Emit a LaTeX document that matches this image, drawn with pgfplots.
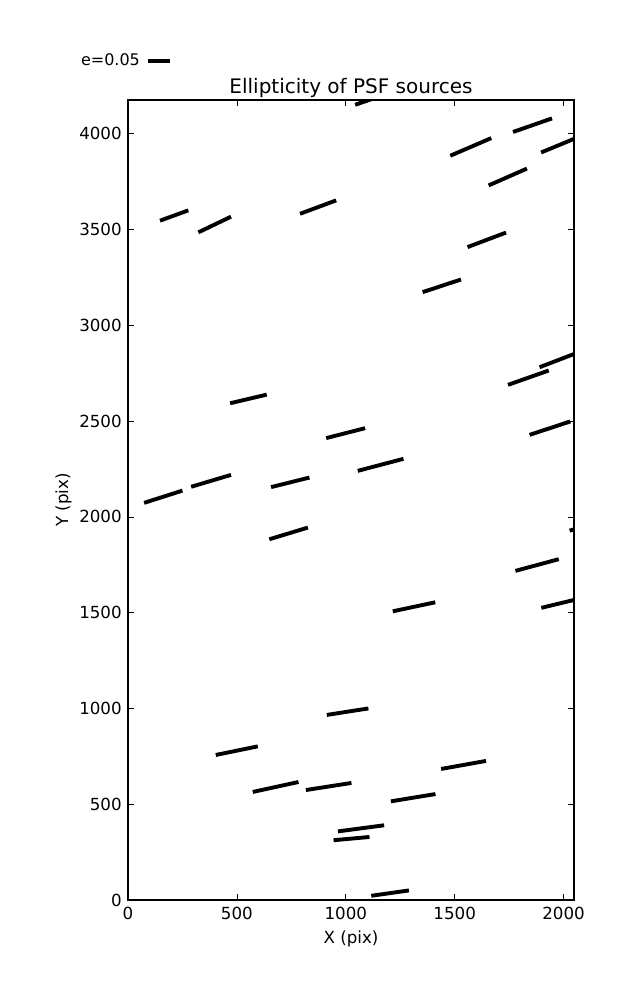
\documentclass[border=0pt]{standalone}
\usepackage{fontspec}
\setmainfont{DejaVu Sans}
\usepackage{pgfplots}
\usepackage{pgfplotstable}
\pgfplotsset{compat=1.18}

\pgfplotstableread{
x y
1043 4151
1230 4224
nan nan
1480 3885
1668 3977
nan nan
1768 4009
1947 4080
nan nan
1897 3902
2080 3988
nan nan
1656 3730
1832 3818
nan nan
147 3546
277 3600
nan nan
323 3485
473 3567
nan nan
790 3582
956 3652
nan nan
1559 3408
1736 3484
nan nan
1353 3173
1529 3239
nan nan
1890 2781
2080 2864
nan nan
1745 2689
1932 2764
nan nan
469 2593
637 2638
nan nan
910 2411
1089 2463
nan nan
1055 2240
1265 2303
nan nan
1844 2428
2031 2498
nan nan
74 2073
250 2137
nan nan
290 2157
473 2219
nan nan
657 2155
833 2205
nan nan
649 1883
826 1944
nan nan
2028 1928
2200 1990
nan nan
1779 1718
1978 1779
nan nan
1898 1525
2080 1575
nan nan
1216 1507
1411 1554
nan nan
913 966
1104 1000
nan nan
403 757
596 802
nan nan
573 564
783 616
nan nan
817 574
1026 611
nan nan
1438 684
1644 726
nan nan
1207 515
1412 553
nan nan
964 358
1176 390
nan nan
944 312
1109 329
nan nan
1117 22
1290 50
}\whiskers

\begin{document}
\begin{tikzpicture}
\path[use as bounding box] (0,0) rectangle (458.64pt,720pt);
\begin{axis}[
  at={(92.16pt,72pt)}, anchor=south west,
  scale only axis,
  width=321.12pt, height=576pt,
  xmin=0, xmax=2048, ymin=0, ymax=4176,
  xtick={0,500,1000,1500,2000},
  ytick={0,500,1000,1500,2000,2500,3000,3500,4000},
  minor tick num=0,
  scaled ticks=false,
  /pgf/number format/assume math mode=true,
  /pgf/number format/set thousands separator={},
  tick label style={font=\fontsize{12}{14}\selectfont},
  xticklabel style={anchor=base, yshift=-14.4pt},
  yticklabel style={xshift=-1pt},
  label style={font=\fontsize{12}{14}\selectfont},
  every axis title shift=0pt,
  title style={font=\fontsize{14.4}{17}\selectfont, at={(axis description cs:0.5,1)}, anchor=base, yshift=4.8pt},
  title={Ellipticity of PSF sources},
  xlabel={X (pix)},
  xlabel style={at={(axis description cs:0.5,0)}, anchor=base, yshift=-31.2pt},
  ylabel={Y (pix)},
  ylabel shift=-1.4pt,
  tick align=inside,
  major tick length=4pt,
  every tick/.style={black, line width=0.5pt},
  axis line style={line width=1pt},
  unbounded coords=jump,
  legend plot pos=right,
  legend style={at={(-0.112,1.049)}, anchor=west, draw=none, fill=none,
    font=\fontsize{11.5}{14}\selectfont, inner sep=0pt},
]
\addlegendimage{black, line width=2.8pt, legend image code/.code={\path (0pt,0pt); \draw[black, line width=2.8pt] (2.4pt,0pt) -- (18pt,0pt);}}
\addlegendentry{e=0.05}
\addplot[black, line width=2.8pt, no markers] table[x=x, y=y] {\whiskers};
\end{axis}
\end{tikzpicture}
\end{document}
